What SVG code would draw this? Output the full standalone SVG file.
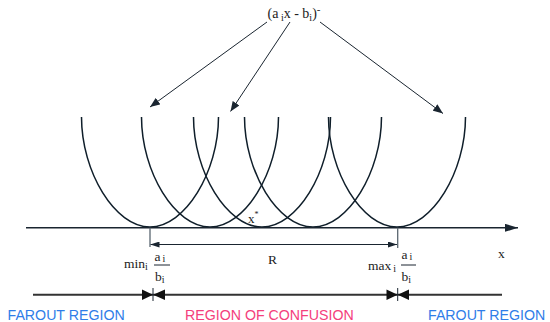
<svg xmlns="http://www.w3.org/2000/svg" width="550" height="322" viewBox="0 0 550 322">
<defs>
<marker id="ah" viewBox="0 0 10 8" refX="10" refY="4" markerWidth="10" markerHeight="8" markerUnits="userSpaceOnUse" orient="auto"><path d="M0,0 L10,4 L0,8 Z" fill="#1a2530"/></marker>
<marker id="ahs" viewBox="0 0 9 6" refX="9" refY="3" markerWidth="9" markerHeight="6" markerUnits="userSpaceOnUse" orient="auto"><path d="M0,0 L9,3 L0,6 Z" fill="#1a2530"/></marker>
<marker id="axh" viewBox="0 0 13 8" refX="13" refY="4" markerWidth="13" markerHeight="8" markerUnits="userSpaceOnUse" orient="auto"><path d="M0,0 L13,4 L0,8 Z" fill="#1a2530"/></marker>
</defs>
<style>
.crv{fill:none;stroke:#0f1e2a;stroke-width:1.5}
.ln{fill:none;stroke:#1a2530;stroke-width:1}
.ax{fill:none;stroke:#1a2530;stroke-width:1.6}
.bl{fill:none;stroke:#333;stroke-width:2}
.tk{fill:none;stroke:#5a6670;stroke-width:1.3}
.m{font-family:"Liberation Serif","Times New Roman",serif;fill:#222}
.blue{font-family:"Liberation Sans",Arial,sans-serif;font-size:14.2px;fill:#2f7de8}
.pink{font-family:"Liberation Sans",Arial,sans-serif;font-size:14.2px;fill:#f4407c}
.tri{fill:#111}
</style>
<g id="curves">
<path class="crv" d="M81.5,117 C81.5,172 115,227 150,227 C185,227 218.5,172 218.5,117"/>
<path class="crv" d="M141.5,117 C141.5,172 175,227 210,227 C245,227 278.5,172 278.5,117"/>
<path class="crv" d="M193.5,117 C193.5,172 227,227 262,227 C297,227 330.5,172 330.5,117"/>
<path class="crv" d="M244.5,117 C244.5,172 278,227 313,227 C348,227 381.5,172 381.5,117"/>
<path class="crv" d="M328.5,117 C328.5,172 362,227 397,227 C432,227 465.5,172 465.5,117"/>
</g>
<g id="connectors">
<line class="ln" x1="267" y1="22" x2="150" y2="107" marker-end="url(#ah)"/>
<line class="ln" x1="290" y1="22" x2="230.5" y2="111.5" marker-end="url(#ah)"/>
<line class="ln" x1="320" y1="22" x2="443" y2="113.5" marker-end="url(#ah)"/>
<line class="ax" x1="26" y1="227.8" x2="518" y2="227.8" marker-end="url(#axh)"/>
<line class="tk" x1="150" y1="227.8" x2="150" y2="247"/>
<line class="tk" x1="397.7" y1="227.8" x2="397.7" y2="248"/>
<line class="ln" x1="175" y1="244.5" x2="150.5" y2="244.5" marker-end="url(#ahs)"/>
<line class="ln" x1="175" y1="244.5" x2="397" y2="244.5" marker-end="url(#ahs)"/>
<line class="bl" x1="33" y1="294.8" x2="502" y2="294.8"/>
<path class="tri" d="M142,289.5 L153,294.8 L142,300 Z M165,289.5 L153,294.8 L165,300 Z"/>
<line class="ln" x1="153" y1="288" x2="153" y2="301"/>
<path class="tri" d="M386.5,289.5 L397.7,294.8 L386.5,300 Z M409,289.5 L397.7,294.8 L409,300 Z"/>
<line class="ln" x1="397.7" y1="288" x2="397.7" y2="301"/>
</g>
<g id="label-top">
<text class="m" x="267.5" y="17.5" font-size="14">(a<tspan font-size="10" dy="3"> i</tspan><tspan dy="-3">x -  b</tspan><tspan font-size="10" dy="3">i</tspan><tspan dy="-3">)</tspan><tspan font-size="11" dy="-5">-</tspan></text>
</g>
<g id="label-xstar">
<text class="m" x="248" y="223" font-size="13">x<tspan font-size="8" dy="-6">*</tspan></text>
</g>
<g id="label-R"><text class="m" x="268" y="264" font-size="13.5">R</text></g>
<g id="label-x"><text class="m" x="498" y="258" font-size="13.5">x</text></g>
<g id="label-min">
<text class="m" x="124" y="268" font-size="13.5">min<tspan font-size="10" dy="2">i</tspan></text>
<text class="m" x="154.5" y="261" font-size="13.5">a<tspan font-size="10" dx="2" dy="1">i</tspan></text>
<line class="ln" x1="154" y1="265" x2="170" y2="265"/>
<text class="m" x="155" y="280.5" font-size="13.5">b<tspan font-size="10" dy="2">i</tspan></text>
</g>
<g id="label-max">
<text class="m" x="368" y="270" font-size="13.5">max<tspan font-size="10" dx="2" dy="2">i</tspan></text>
<text class="m" x="401.5" y="259" font-size="13.5">a<tspan font-size="10" dx="2" dy="1">i</tspan></text>
<line class="ln" x1="401" y1="265" x2="416" y2="265"/>
<text class="m" x="401.5" y="280.5" font-size="13.5">b<tspan font-size="10" dy="2">i</tspan></text>
</g>
<g id="regions">
<text class="blue" x="7.5" y="319.5">FAROUT REGION</text>
<text class="pink" x="185" y="319.5">REGION OF CONFUSION</text>
<text class="blue" x="428" y="319.5">FAROUT REGION</text>
</g>
</svg>
